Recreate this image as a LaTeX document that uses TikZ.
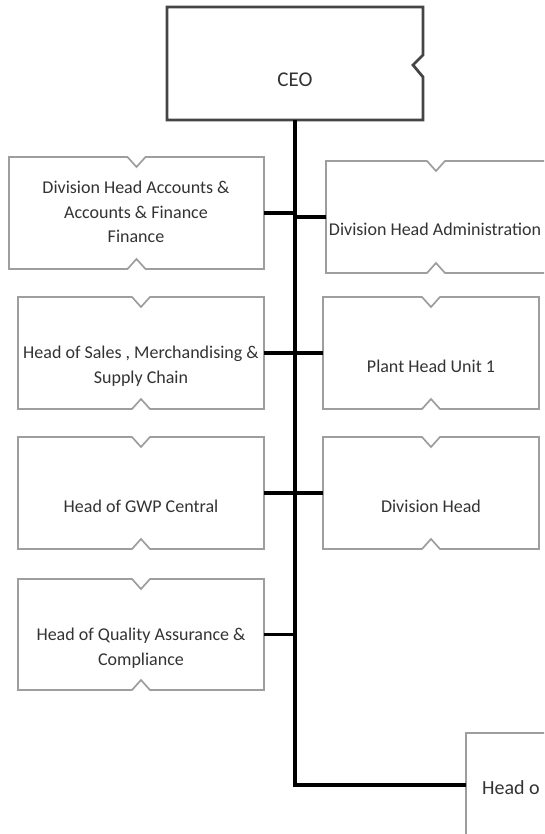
\documentclass[tikz,border=0pt]{standalone}
\usepackage{fontspec}
\setmainfont{Carlito}
\usetikzlibrary{fit,calc}
\definecolor{txtgray}{HTML}{333333}
\definecolor{boxgray}{HTML}{9E9E9E}
\definecolor{ceogray}{HTML}{454545}
\tikzset{
  boxline/.style={draw=boxgray, line width=1.7pt, line join=miter},
  ceoline/.style={draw=ceogray, line width=2.8pt, line join=miter},
  conn/.style={draw=black, line width=3.2pt},
  lbl/.style={text=txtgray, align=center, inner sep=0pt, font=\fontsize{18}{24.5}\selectfont},
  frame/.style={inner sep=0pt, outer sep=0pt}
}
\newcommand\orgbox[5]{%
  \node[frame, fit={(#2,#3) (#4,#5)}] (#1) {};
  \draw[boxline] (#1.north west) -- ([xshift=-9pt]#1.north) -- ([yshift=-10pt]#1.north)
     -- ([xshift=9pt]#1.north) -- (#1.north east) -- (#1.south east)
     -- ([xshift=9pt]#1.south) -- ([yshift=10pt]#1.south) -- ([xshift=-9pt]#1.south)
     -- (#1.south west) -- cycle;
}
\begin{document}
\begin{tikzpicture}[x=1pt,y=-1pt]
  \path[use as bounding box] (0,0) rectangle (544,834);
  \clip (0,0) rectangle (544,834);
  \fill[white] (0,0) rectangle (544,834);

  % CEO
  \node[frame, fit={(167,7) (423,120)}] (ceo) {};
  \draw[ceoline] (ceo.north west) -- (ceo.north east) -- (423,55) -- (413,65) -- (423,77)
     -- (ceo.south east) -- (ceo.south west) -- cycle;
  \node[lbl, font=\fontsize{21}{25}\selectfont] (ceot) at (295,80) {CEO};

  % left column
  \orgbox{l1}{9}{157}{264}{269}
  \orgbox{l2}{18}{297}{264}{409}
  \orgbox{l3}{18}{437}{264}{549}
  \orgbox{l4}{18}{579}{264}{690}
  % right column
  \orgbox{r1}{326}{161}{546}{273}
  \orgbox{r2}{323}{297}{539}{409}
  \orgbox{r3}{323}{437}{539}{549}
  % bottom box (partly outside)
  \node[frame, fit={(466,733) (640,837)}] (bot) {};
  \draw[boxline] (bot.south west) -- (bot.north west) -- (bot.north east);

  % labels
  \node[lbl] (l1t) at (136,212) {Division Head Accounts \&\\Accounts \& Finance\\Finance};
  \node[lbl] (l2t) at (141,366) {Head of Sales , Merchandising \&\\Supply Chain};
  \node[lbl] (l3t) at (141,506) {Head of GWP Central};
  \node[lbl] (l4t) at (141,648) {Head of Quality Assurance \&\\Compliance};
  \node[lbl] (r1t) at (435,229) {Division Head Administration};
  \node[lbl] (r2t) at (431,366) {Plant Head Unit 1};
  \node[lbl] (r3t) at (431,506) {Division Head};
  \node[lbl, anchor=west, font=\fontsize{20}{24}\selectfont] (bott) at (482,788) {Head o};

  % connectors
  \draw[conn] (ceo.south) |- (bot.west);
  \foreach \b in {l1,l2,l3,l4}{
    \draw[conn] (\b.east) -- (\b.east -| ceo.south);
  }
  \foreach \b in {r1,r2,r3}{
    \draw[conn] (\b.west) -- (\b.west -| ceo.south);
  }
\end{tikzpicture}
\end{document}
